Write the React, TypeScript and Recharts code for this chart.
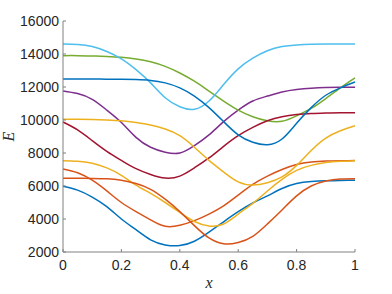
import React from "react";
import { LineChart, Line, XAxis, YAxis } from "recharts";

// x positions of the sampled points
const xs = [0, 0.05, 0.1, 0.15, 0.2, 0.25, 0.3, 0.35, 0.4, 0.45, 0.5, 0.55, 0.6, 0.65, 0.7, 0.75, 0.8, 0.85, 0.9, 0.95, 1];

const blueLow = [5980, 5750, 5330, 4750, 4000, 3350, 2740, 2430, 2390, 2650, 3200, 3830, 4440, 4970, 5400, 5850, 6150, 6270, 6320, 6340, 6345];
const orangeLow = [7030, 6800, 6350, 5700, 5000, 4450, 3950, 3560, 3620, 3900, 4300, 4800, 5450, 6100, 6600, 7000, 7300, 7450, 7510, 7530, 7540];
const yellowLow = [7533, 7500, 7380, 7100, 6650, 6050, 5550, 5000, 4400, 3850, 3580, 3700, 4300, 4950, 5700, 6400, 6950, 7250, 7420, 7500, 7533];
const purple = [11760, 11600, 11250, 10600, 9850, 8950, 8350, 8050, 8000, 8450, 9100, 9900, 10600, 11150, 11450, 11700, 11850, 11930, 11970, 11980, 11980];
const green = [13900, 13900, 13880, 13850, 13800, 13700, 13530, 13250, 12850, 12350, 11750, 11150, 10600, 10200, 9950, 9920, 10250, 10700, 11300, 11950, 12550];
const lightBlue = [14600, 14570, 14450, 14150, 13700, 13050, 12250, 11350, 10800, 10650, 11150, 12150, 13100, 13750, 14200, 14450, 14550, 14590, 14600, 14600, 14600];
const darkRed = [9880, 9400, 8750, 8100, 7550, 7050, 6700, 6480, 6600, 7100, 7700, 8400, 9050, 9550, 9950, 10200, 10330, 10390, 10420, 10440, 10440];
const blueHigh = [12480, 12480, 12480, 12475, 12470, 12450, 12400, 12250, 11950, 11450, 10750, 9900, 9100, 8650, 8500, 8850, 9800, 10750, 11500, 11950, 12300];
const orangeMid = [6467, 6467, 6460, 6440, 6350, 6150, 5800, 5200, 4450, 3600, 2850, 2500, 2580, 2950, 3700, 4550, 5400, 6000, 6300, 6420, 6440];
const yellowHigh = [10040, 10040, 10030, 10000, 9950, 9850, 9700, 9450, 9050, 8350, 7550, 6850, 6250, 6060, 6200, 6550, 7250, 8150, 8900, 9350, 9650];

const xTicks = [0, 0.2, 0.4, 0.6, 0.8, 1];
const yTicks = [2000, 4000, 6000, 8000, 10000, 12000, 14000, 16000];

const series = [
  { key: "s1", values: blueLow, color: "#0072BD" },
  { key: "s2", values: orangeLow, color: "#D95319" },
  { key: "s3", values: yellowLow, color: "#EDB120" },
  { key: "s4", values: purple, color: "#7E2F8E" },
  { key: "s5", values: green, color: "#77AC30" },
  { key: "s6", values: lightBlue, color: "#4DBEEE" },
  { key: "s7", values: darkRed, color: "#A2142F" },
  { key: "s8", values: blueHigh, color: "#0072BD" },
  { key: "s9", values: orangeMid, color: "#D95319" },
  { key: "s10", values: yellowHigh, color: "#EDB120" },
];

const data = xs.map((x, i) => {
  const row: any = { x };
  series.forEach((s) => (row[s.key] = s.values[i]));
  return row;
});

const AX = "#808080";
const TXT = "#262626";
const FONT = "'Liberation Sans', Arial, sans-serif";
const SERIF = "'Liberation Serif', 'Times New Roman', serif";
const TM = 4;
const TL = 3;

const BottomTick = ({ x, y, payload }: any) => {
  const ay = y - TM;
  return (
    <g>
      <line x1={x} x2={x} y1={ay} y2={ay - TL} stroke={AX} />
      <text x={x} y={y + 14} textAnchor="middle" fill={TXT} fontSize={14} fontFamily={FONT}>
        {payload.value}
      </text>
    </g>
  );
};

const LeftTick = ({ x, y, payload }: any) => {
  const ax = x + TM;
  return (
    <g>
      <line x1={ax} x2={ax + TL} y1={y} y2={y} stroke={AX} />
      <text x={x} y={y + 5} textAnchor="end" fill={TXT} fontSize={14} fontFamily={FONT}>
        {payload.value}
      </text>
    </g>
  );
};

const TopTick = ({ x, y }: any) => {
  const ay = y + TM;
  return <line x1={x} x2={x} y1={ay} y2={ay + TL} stroke={AX} />;
};

const RightTick = ({ x, y }: any) => {
  const ax = x - TM;
  return <line x1={ax} x2={ax - TL} y1={y} y2={y} stroke={AX} />;
};

const YLabel = ({ viewBox }: any) => {
  const cx = viewBox.x + 14;
  const cy = viewBox.y + viewBox.height / 2;
  return (
    <text
      x={cx}
      y={cy}
      textAnchor="middle"
      transform={`rotate(-90, ${cx}, ${cy})`}
      fill={TXT}
      fontSize={16}
      fontStyle="italic"
      fontFamily={SERIF}
    >
      E
    </text>
  );
};

const XLabel = ({ viewBox }: any) => {
  const cx = viewBox.x + viewBox.width / 2;
  return (
    <text
      x={cx}
      y={viewBox.y + 36}
      textAnchor="middle"
      fill={TXT}
      fontSize={16}
      fontStyle="italic"
      fontFamily={SERIF}
    >
      x
    </text>
  );
};

export default function App() {
  return (
    <div style={{ position: "absolute", left: 0, top: 0, width: 392, height: 294, background: "#fff" }}>
      <LineChart width={392} height={294} data={data} margin={{ top: 21, right: 37, left: 0, bottom: 0 }}>
        <XAxis
          dataKey="x"
          type="number"
          domain={[0, 1]}
          ticks={xTicks}
          height={42}
          tickSize={0}
          tickMargin={TM}
          tickLine={false}
          axisLine={{ stroke: AX }}
          tick={<BottomTick />}
          label={<XLabel />}
        />
        <XAxis
          xAxisId="top"
          dataKey="x"
          type="number"
          orientation="top"
          domain={[0, 1]}
          ticks={xTicks}
          height={0}
          tickSize={0}
          tickMargin={TM}
          tickLine={false}
          axisLine={{ stroke: AX }}
          tick={<TopTick />}
        />
        <YAxis
          type="number"
          domain={[2000, 16000]}
          ticks={yTicks}
          width={63}
          tickSize={0}
          tickMargin={TM}
          tickLine={false}
          axisLine={{ stroke: AX }}
          tick={<LeftTick />}
          label={<YLabel />}
        />
        <YAxis
          yAxisId="right"
          type="number"
          orientation="right"
          domain={[2000, 16000]}
          ticks={yTicks}
          width={0}
          tickSize={0}
          tickMargin={TM}
          tickLine={false}
          axisLine={{ stroke: AX }}
          tick={<RightTick />}
        />
        {series.map((s) => (
          <Line
            key={s.key}
            dataKey={s.key}
            type="natural"
            stroke={s.color}
            strokeWidth={1.5}
            dot={false}
            activeDot={false}
            isAnimationActive={false}
          />
        ))}
      </LineChart>
    </div>
  );
}
